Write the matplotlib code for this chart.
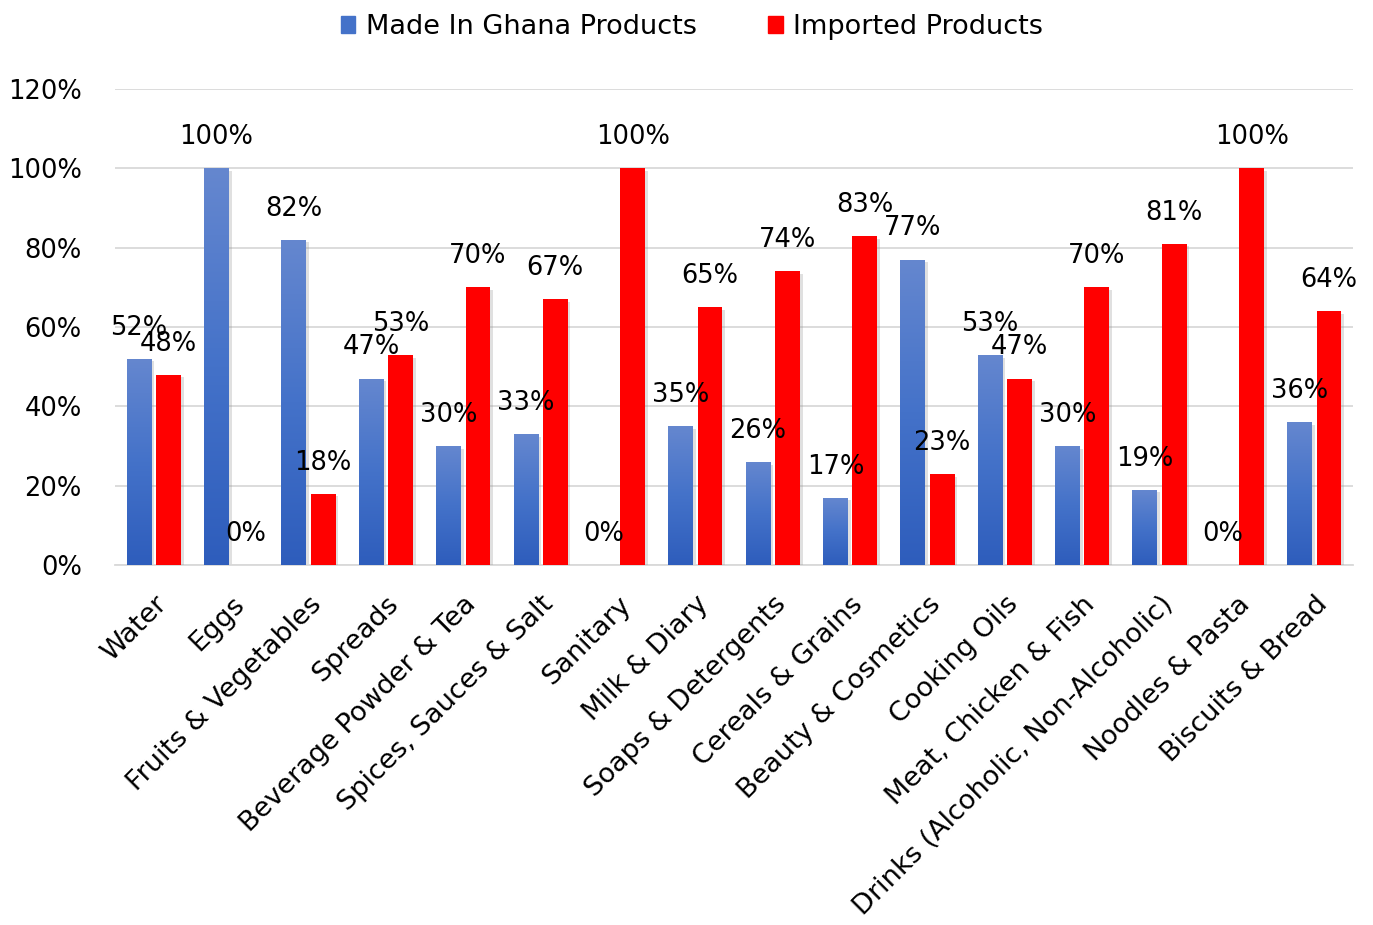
import numpy as np
import matplotlib
matplotlib.use("Agg")
import matplotlib.pyplot as plt
import matplotlib.patheffects as pe
from matplotlib.colors import LinearSegmentedColormap
from matplotlib.patches import Patch

plt.rcParams['font.family'] = ['DejaVu Sans']

categories = ["Water", "Eggs", "Fruits & Vegetables", "Spreads", "Beverage Powder & Tea",
              "Spices, Sauces & Salt", "Sanitary", "Milk & Diary", "Soaps & Detergents",
              "Cereals & Grains", "Beauty & Cosmetics", "Cooking Oils", "Meat, Chicken & Fish",
              "Drinks (Alcoholic, Non-Alcoholic)", "Noodles & Pasta", "Biscuits & Bread"]
made_in_ghana = [52, 100, 82, 47, 30, 33, 0, 35, 26, 17, 77, 53, 30, 19, 0, 36]
imported = [48, 0, 18, 53, 70, 67, 100, 65, 74, 83, 23, 47, 70, 81, 100, 64]
yticks = [0, 20, 40, 60, 80, 100, 120]

FS = 18.5

fig = plt.figure(figsize=(13.73, 9.25), dpi=100)
ax = fig.add_axes([0.0838, 0.3892, 0.9016, 0.5146])

x = np.arange(len(categories))
w = 0.32
off = 0.19

shadow = [pe.SimplePatchShadow(offset=(2, -2), shadow_rgbFace='#999999', alpha=0.3), pe.Normal()]
blue_bars = ax.bar(x - off, made_in_ghana, w, color='none', zorder=3)
red_bars = ax.bar(x + off, imported, w, color='#FF0000', zorder=3, path_effects=shadow)

# gradient fill for the blue bars (lighter at the top)
cmap = LinearSegmentedColormap.from_list('bl', ['#2E5DBC', '#4472C9', '#6587CF'])
grad = np.linspace(0, 1, 256).reshape(-1, 1)
for b in blue_bars:
    h = b.get_height()
    if h <= 0:
        continue
    sh = ax.bar(b.get_x() + b.get_width() / 2, h, w, color='#999999', zorder=2.5)
    sh[0].set_path_effects([pe.SimplePatchShadow(offset=(2, -2), shadow_rgbFace='#999999', alpha=0.3)])
    sh[0].set_alpha(0)
    im = ax.imshow(grad, cmap=cmap, origin='lower', aspect='auto', zorder=3,
                   extent=[b.get_x(), b.get_x() + b.get_width(), 0, h])
    im.set_clip_path(b)

for bars, vals in ((blue_bars, made_in_ghana), (red_bars, imported)):
    for b, v in zip(bars, vals):
        ax.annotate(f"{v}%", (b.get_x() + b.get_width() / 2, v), xytext=(0, 13),
                    textcoords='offset points', ha='center', va='bottom', fontsize=FS, zorder=5)

ax.set_xlim(-0.5, len(categories) - 0.5)
ax.set_ylim(0, 120)
ax.set_yticks(yticks)
ax.set_yticklabels([f"{t}%" for t in yticks], fontsize=FS)
ax.yaxis.grid(True, color='#D9D9D9', linewidth=1.3, zorder=0)
ax.set_axisbelow(True)
ax.tick_params(axis='y', length=0, pad=24)
ax.tick_params(axis='x', length=0, pad=19)
ax.set_xticks(x)
ax.set_xticklabels(categories, rotation=45, ha='right', rotation_mode='anchor', fontsize=19.5)
for s in ['top', 'right', 'left']:
    ax.spines[s].set_visible(False)
ax.spines['bottom'].set_color('#D9D9D9')
ax.spines['bottom'].set_linewidth(1.3)

handles = [Patch(color='#4472C9', label='Made In Ghana Products'),
           Patch(color='#FF0000', label='Imported Products')]
fig.legend(handles=handles, loc='upper center', bbox_to_anchor=(0.504, 1.011), ncol=2,
           frameon=False, fontsize=19.5, handlelength=0.55, handleheight=0.55,
           handletextpad=0.4, columnspacing=2.6)

fig.savefig("out.png", dpi=100)
